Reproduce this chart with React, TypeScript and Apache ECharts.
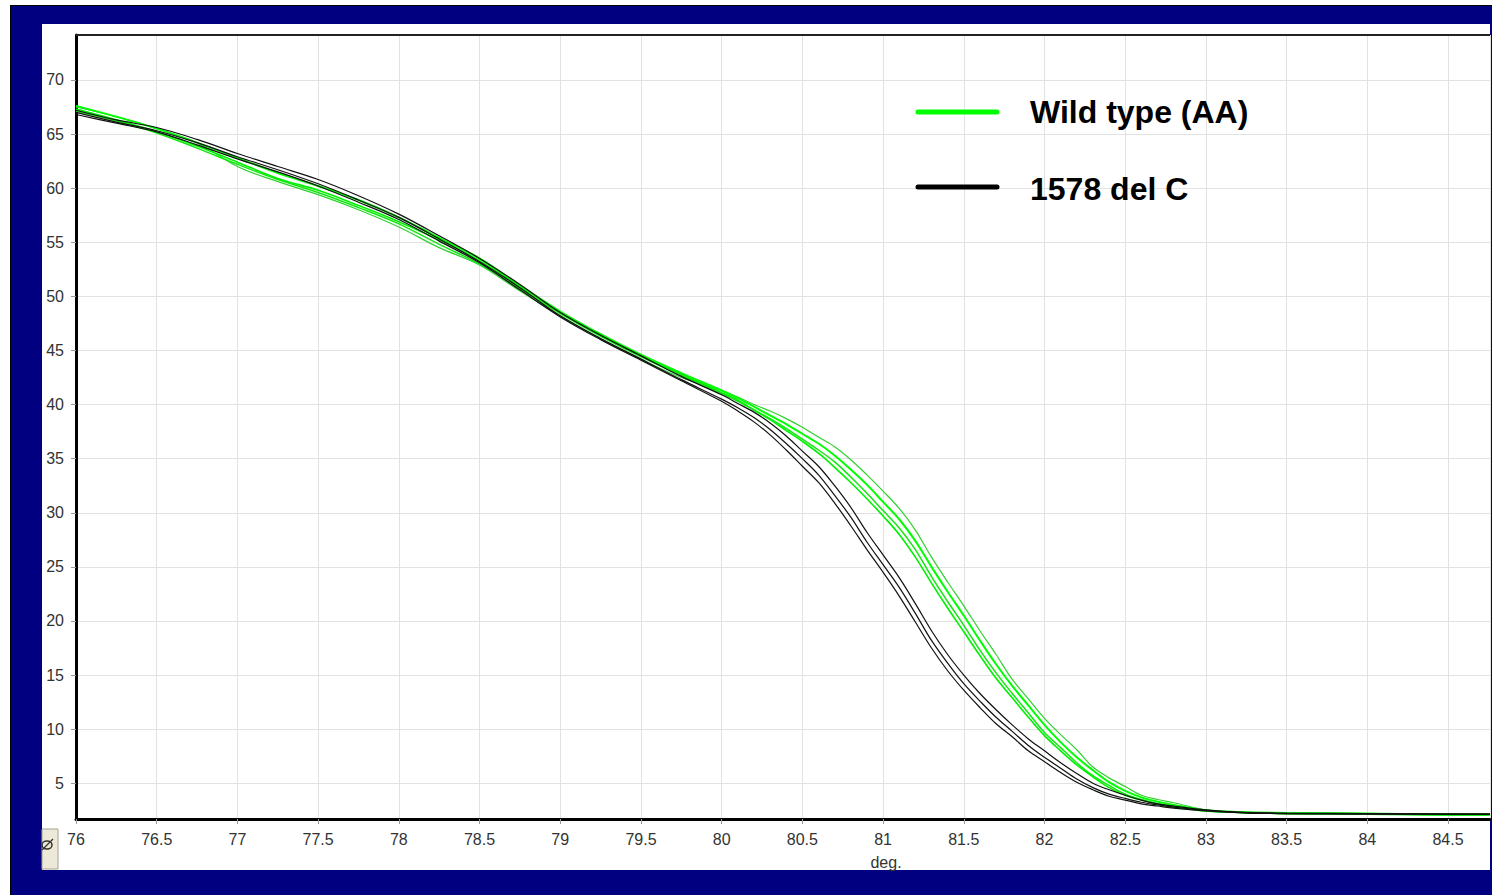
import React, { useEffect, useRef } from "react";
import * as echarts from "echarts";

// Temperature (deg.) sample points shared by all curves
const temps = [
  76, 76.25, 76.5, 76.75, 77, 77.25, 77.5, 77.75, 78, 78.25,
  78.5, 78.75, 79, 79.25, 79.5, 79.75, 80, 80.1, 80.2, 80.3,
  80.4, 80.5, 80.6, 80.7, 80.8, 80.9, 81, 81.1, 81.2, 81.3,
  81.4, 81.5, 81.6, 81.7, 81.8, 81.9, 82, 82.1, 82.2, 82.3,
  82.4, 82.5, 82.6, 82.7, 82.8, 83, 83.25, 83.5, 84, 84.5,
  84.76,
];

// Wild type (AA) replicates
const wild1 = [
  67.5, 66.6, 65.5, 64.2, 62.0, 60.6, 59.4, 58.0, 56.4, 54.5,
  52.9, 50.5, 48.2, 46.1, 44.2, 42.5, 41.3, 40.7, 40.0, 39.4,
  38.7, 37.9, 37.0, 36.1, 34.9, 33.5, 32.0, 30.4, 28.4, 25.9,
  23.6, 21.4, 19.1, 16.9, 14.6, 12.8, 11.0, 9.5, 8.1, 6.5,
  5.5, 4.7, 3.9, 3.5, 3.2, 2.55, 2.35, 2.3, 2.2, 2.15,
  2.1,
];
const wild2 = [
  67.6, 66.6, 65.5, 64.2, 62.8, 61.4, 60.2, 58.9, 57.3, 55.4,
  53.5, 51.0, 48.6, 46.5, 44.6, 42.9, 41.3, 40.6, 39.8, 39.0,
  38.2, 37.3, 36.4, 35.3, 34.0, 32.6, 31.0, 29.4, 27.4, 25.0,
  22.7, 20.5, 18.2, 16.0, 14.0, 12.2, 10.4, 8.8, 7.4, 6.2,
  5.1, 4.3, 3.7, 3.3, 3.0, 2.5, 2.3, 2.25, 2.2, 2.1,
  2.1,
];
const wild3 = [
  67.1, 66.2, 65.1, 63.7, 62.2, 60.8, 59.6, 58.2, 56.7, 54.8,
  53.0, 50.7, 48.4, 46.3, 44.4, 42.7, 41.0, 40.3, 39.5, 38.7,
  37.8, 36.8, 35.8, 34.7, 33.3, 31.8, 30.2, 28.6, 26.6, 24.1,
  21.8, 19.6, 17.3, 15.2, 13.3, 11.5, 9.7, 8.3, 6.9, 5.7,
  4.8, 4.0, 3.5, 3.1, 2.85, 2.45, 2.3, 2.2, 2.15, 2.1,
  2.1,
];
const wild4 = [
  67.3, 66.3, 65.2, 63.9, 62.4, 60.9, 59.8, 58.4, 56.9, 55.2,
  53.3, 50.9, 48.5, 46.4, 44.5, 42.8, 41.1, 40.4, 39.5, 38.6,
  37.6, 36.6, 35.5, 34.2, 32.8, 31.3, 29.7, 28.0, 25.9, 23.5,
  21.2, 19.0, 16.8, 14.7, 12.9, 11.1, 9.4, 8.0, 6.7, 5.6,
  4.6, 3.9, 3.45, 3.1, 2.8, 2.45, 2.3, 2.2, 2.15, 2.1,
  2.1,
];

// 1578 del C replicates
const del1 = [
  67.2, 66.3, 65.6, 64.5, 63.2, 62.0, 60.8, 59.3, 57.6, 55.6,
  53.5, 51.1, 48.5, 46.4, 44.5, 42.6, 40.9, 40.1, 39.3, 38.3,
  37.1, 35.7, 34.3, 32.5, 30.5, 28.2, 26.1, 24.0, 21.6, 19.1,
  16.9, 15.0, 13.3, 11.8, 10.4, 9.1, 8.0, 6.9, 5.9, 5.0,
  4.4, 3.9, 3.45, 3.1, 2.9, 2.55, 2.3, 2.25, 2.2, 2.15,
  2.15,
];
const del2 = [
  67.0, 66.1, 65.3, 64.2, 62.9, 61.7, 60.4, 58.9, 57.3, 55.3,
  53.2, 50.8, 48.2, 46.1, 44.2, 42.3, 40.5, 39.7, 38.8, 37.7,
  36.4, 35.0, 33.5, 31.6, 29.6, 27.3, 25.2, 23.1, 20.7, 18.2,
  16.1, 14.2, 12.6, 11.1, 9.8, 8.5, 7.4, 6.4, 5.4, 4.6,
  4.0, 3.6, 3.25, 3.0, 2.8, 2.5, 2.3, 2.2, 2.2, 2.15,
  2.15,
];
const del3 = [
  66.8, 66.0, 65.2, 64.0, 62.7, 61.5, 60.2, 58.7, 57.1, 55.1,
  53.1, 50.6, 48.1, 46.0, 44.1, 42.2, 40.3, 39.4, 38.4, 37.2,
  35.8, 34.3, 32.8, 30.9, 28.8, 26.6, 24.5, 22.3, 19.9, 17.5,
  15.4, 13.6, 12.0, 10.5, 9.3, 8.0, 7.0, 6.0, 5.1, 4.4,
  3.8, 3.45, 3.1, 2.9, 2.7, 2.45, 2.25, 2.2, 2.15, 2.15,
  2.15,
];

const legendNames = ["Wild type (AA)", "1578 del C"];
const xAxisName = "deg.";

const FONT = "'Liberation Sans', Arial, sans-serif";

export default function App() {
  const ref = useRef<HTMLDivElement>(null);

  useEffect(() => {
    if (!ref.current) return;
    const chart = echarts.init(ref.current, null, { renderer: "svg" });

    const mk = (name: string, vals: number[], color: string, width: number) => ({
      type: "line",
      name,
      data: temps.map((t, i) => [t, vals[i]]),
      symbol: "none",
      showSymbol: false,
      smooth: 0.35,
      silent: true,
      lineStyle: { color, width },
      itemStyle: { color },
    });

    chart.setOption({
      animation: false,
      backgroundColor: "transparent",
      grid: { left: 76, right: 2, top: 35, bottom: 76, containLabel: false },
      xAxis: {
        type: "value",
        min: 76,
        max: 84.76,
        interval: 0.5,
        axisLine: { show: true, onZero: false, lineStyle: { color: "#000", width: 3 } },
        axisTick: { show: true, length: 5, lineStyle: { color: "#999" } },
        axisLabel: {
          color: "#333",
          fontSize: 16,
          fontFamily: FONT,
          margin: 12,
          showMaxLabel: false,
          showMinLabel: true,
        },
        splitLine: { show: true, lineStyle: { color: "#e2e2e2", width: 1 } },
      },
      yAxis: {
        type: "value",
        min: 1.7,
        max: 74.15,
        splitNumber: 14,
        minInterval: 5,
        maxInterval: 5,
        axisLine: { show: true, onZero: false, lineStyle: { color: "#000", width: 3 } },
        axisTick: { show: true, length: 5, lineStyle: { color: "#999" } },
        axisLabel: {
          color: "#333",
          fontSize: 16,
          fontFamily: FONT,
          margin: 12,
          showMinLabel: false,
          showMaxLabel: false,
        },
        splitLine: { show: true, lineStyle: { color: "#e2e2e2", width: 1 } },
      },
      series: [
        mk(legendNames[0], wild1, "#2fd12f", 1.2),
        mk(legendNames[0], wild2, "#00ff00", 2),
        mk(legendNames[0], wild3, "#14e614", 1.5),
        mk(legendNames[0], wild4, "#00f000", 1.6),
        mk(legendNames[1], del1, "#111", 1.2),
        mk(legendNames[1], del2, "#111", 1.2),
        mk(legendNames[1], del3, "#111", 1.2),
      ],
      graphic: [
        {
          type: "line",
          z: 50,
          shape: { x1: 76, y1: 35, x2: 1490, y2: 35 },
          style: { stroke: "#222", lineWidth: 2 },
        },
        {
          type: "line",
          z: 50,
          shape: { x1: 918, y1: 112, x2: 997, y2: 112 },
          style: { stroke: "#00ff00", lineWidth: 5, lineCap: "round" },
        },
        {
          type: "text",
          z: 50,
          x: 1030,
          y: 112,
          style: {
            text: legendNames[0],
            fill: "#000",
            font: `bold 32px ${FONT}`,
            textVerticalAlign: "middle",
            verticalAlign: "middle",
          },
        },
        {
          type: "line",
          z: 50,
          shape: { x1: 918, y1: 187, x2: 997, y2: 187 },
          style: { stroke: "#000", lineWidth: 5, lineCap: "round" },
        },
        {
          type: "text",
          z: 50,
          x: 1030,
          y: 189,
          style: {
            text: legendNames[1],
            fill: "#000",
            font: `bold 32px ${FONT}`,
            textVerticalAlign: "middle",
            verticalAlign: "middle",
          },
        },
        {
          type: "text",
          z: 50,
          x: 886,
          y: 862,
          style: {
            text: xAxisName,
            fill: "#333",
            font: `16px ${FONT}`,
            align: "center",
            textAlign: "center",
            verticalAlign: "middle",
            textVerticalAlign: "middle",
          },
        },
        {
          type: "rect",
          z: 50,
          shape: { x: 42, y: 829, width: 16, height: 40 },
          style: { fill: "#ece9d8", stroke: "#a5a290", lineWidth: 1 },
        },
        {
          type: "ellipse",
          z: 51,
          shape: { cx: 47, cy: 845, rx: 5, ry: 4 },
          style: { fill: "none", stroke: "#333", lineWidth: 1.5 },
        },
        {
          type: "line",
          z: 51,
          shape: { x1: 42, y1: 850, x2: 53, y2: 839 },
          style: { stroke: "#333", lineWidth: 1.2 },
        },
      ],
    });

    return () => chart.dispose();
  }, []);

  return (
    <div style={{ position: "fixed", left: 0, top: 0, width: 1492, height: 895, background: "#fff", overflow: "hidden" }}>
      <div style={{ position: "absolute", left: 10, top: 5, width: 1482, height: 890, background: "#000" }} />
      <div style={{ position: "absolute", left: 11, top: 6, width: 1481, height: 889, background: "#000080" }} />
      <div style={{ position: "absolute", left: 42, top: 24, width: 1448, height: 846, background: "#fff" }} />
      <div ref={ref} style={{ position: "absolute", left: 0, top: 0, width: 1492, height: 895 }} />
    </div>
  );
}
